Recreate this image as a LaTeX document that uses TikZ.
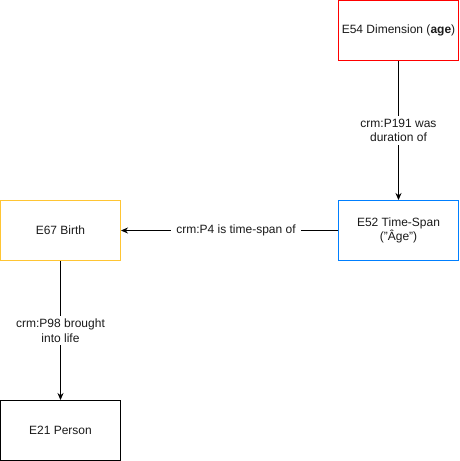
\documentclass[tikz,border=0pt]{standalone}
\usepackage{fontspec}
\setmainfont{Liberation Sans}
\usetikzlibrary{arrows.meta}
\definecolor{boxred}{HTML}{FF0000}
\definecolor{boxblue}{HTML}{007FFF}
\definecolor{boxyellow}{HTML}{FFC533}
\definecolor{txt}{HTML}{1A1A1A}
\begin{document}
\begin{tikzpicture}[x=1pt,y=-1pt,
  ent/.style={draw, line width=1pt, minimum width=120pt, minimum height=60pt, inner sep=0pt, align=center, font=\fontsize{12}{14.5}\selectfont, text=txt},
  rel/.style={draw=black, line width=0.8pt, -{Stealth[length=7pt,width=6pt]}},
  lab/.style={fill=white, align=center, font=\fontsize{12}{14.5}\selectfont, text=txt, inner xsep=5pt, inner ysep=3pt}]
\useasboundingbox (0,0) rectangle (459,461);
\node[ent, draw=boxred] (dim) at (398.5,30.5) {E54 Dimension (\textbf{age})};
\node[ent, draw=boxblue] (ts) at (398.5,230.5) {E52 Time-Span\\("Âge")};
\node[ent, draw=boxyellow] (birth) at (60.5,230.5) {E67 Birth};
\node[ent, draw=black] (person) at (60.5,430.5) {E21 Person};
\draw[rel] (dim) -- node[lab] {crm:P191 was\\duration of} (ts);
\draw[rel] (ts) -- node[lab, pos=0.47] {crm:P4 is time-span of} (birth);
\draw[rel] (birth) -- node[lab] {crm:P98 brought\\into life} (person);
\end{tikzpicture}
\end{document}
